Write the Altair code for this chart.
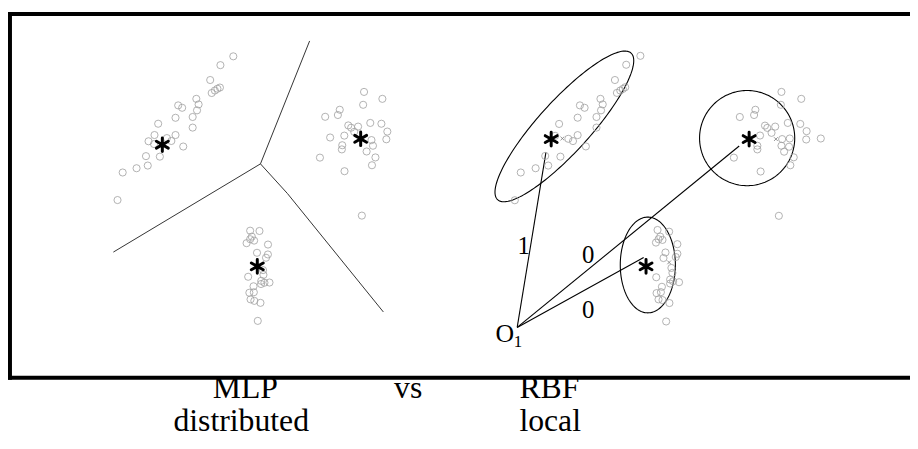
import altair as alt
import pandas as pd
import numpy as np

# ---------------- data (page pixel coordinates) ----------------
# MLP panel: three clusters of samples
mlp_left_x = [235.3, 222.3, 212.0, 213.5, 216.7, 219.3, 221.8, 198.0, 200.3, 198.7, 179.7, 183.7, 177.0, 194.3,
              194.3, 159.5, 155.8, 149.8, 177.0, 172.8, 168.3, 155.3, 184.8, 161.2, 147.2, 149.0, 137.7, 123.7, 118.5]
mlp_left_y = [54.8, 63.7, 78.7, 91.8, 89.3, 87.5, 86.3, 97.7, 103.3, 109.3, 104.3, 106.7, 116.8, 116.0,
              126.7, 122.8, 134.2, 140.5, 134.2, 140.2, 137.3, 143.3, 145.8, 156.0, 155.5, 165.0, 167.7, 172.0, 199.8]

mlp_right_x = [367.2, 385.7, 366.3, 342.7, 340.8, 328.0, 351.3, 354.2, 361.2, 373.5, 384.7, 390.7, 389.7, 333.0,
               347.3, 357.3, 374.7, 376.2, 345.2, 344.8, 369.8, 378.7, 375.2, 322.7, 347.5, 365.0]
mlp_right_y = [90.7, 97.7, 103.7, 108.7, 114.0, 115.8, 124.5, 126.8, 125.7, 122.0, 122.8, 130.7, 138.5, 136.7,
               134.8, 131.0, 139.3, 145.0, 144.5, 148.7, 150.8, 156.8, 164.7, 157.0, 170.7, 215.5]

mlp_bottom_x = [252.3, 261.7, 254.0, 252.3, 256.3, 248.7, 270.3, 259.2, 270.2, 268.3, 265.3, 265.7, 250.3, 263.5,
                266.7, 271.8, 263.3, 255.7, 251.5, 256.0, 252.7, 256.5, 262.7, 260.0]
mlp_bottom_y = [230.7, 231.0, 236.7, 239.3, 240.7, 243.3, 244.7, 253.0, 254.7, 258.0, 270.5, 275.3, 277.2, 281.3,
                283.2, 283.0, 284.5, 286.8, 293.3, 292.8, 300.0, 301.5, 303.5, 321.7]

mlp_centre_x = [163.7, 363.8, 259.5]
mlp_centre_y = [144.0, 138.0, 266.7]

# MLP decision boundaries (three segments meeting at a junction)
mlp_bound_id = ["a", "a", "b", "b", "c", "c", "c"]
mlp_bound_x = [262.7, 312.3, 262.7, 114.3, 262.7, 290.0, 386.7]
mlp_bound_y = [163.3, 39.3, 163.3, 252.3, 163.3, 193.3, 312.7]

# RBF panel: the same three clusters
rbf_left_x = [646.0, 631.7, 620.3, 622.3, 625.7, 628.3, 630.7, 605.7, 608.0, 606.3, 585.0, 589.7, 582.7, 601.7,
              601.7, 564.0, 560.0, 582.7, 578.0, 573.3, 591.0, 565.3, 550.0, 553.0, 540.3, 525.3, 519.3]
rbf_left_y = [54.3, 63.3, 78.7, 91.7, 89.3, 87.7, 86.0, 97.7, 103.3, 109.3, 104.3, 106.7, 116.7, 116.0,
              126.7, 123.0, 135.0, 134.3, 140.3, 138.0, 145.7, 156.0, 155.3, 165.0, 167.7, 172.0, 200.0]

rbf_right_x = [788.3, 808.3, 787.7, 762.0, 760.7, 746.3, 771.7, 774.0, 782.0, 794.7, 807.3, 813.7, 813.3, 828.0,
               766.7, 778.3, 789.0, 796.7, 788.3, 796.0, 764.0, 764.0, 791.0, 800.7, 797.3, 740.3, 767.3, 785.7]
rbf_right_y = [90.7, 97.7, 103.7, 108.7, 114.0, 116.0, 124.7, 127.0, 125.7, 122.0, 123.0, 130.3, 138.7, 137.7,
               134.7, 132.0, 138.3, 137.7, 145.0, 146.0, 145.0, 148.7, 151.0, 156.7, 164.7, 157.0, 171.0, 215.7]

rbf_bottom_x = [663.3, 675.0, 666.0, 664.3, 668.3, 661.7, 683.3, 671.3, 683.3, 681.7, 669.3, 677.3, 678.3, 662.0,
                676.0, 679.0, 685.0, 676.0, 667.7, 662.3, 666.7, 664.3, 668.3, 675.3, 672.0]
rbf_bottom_y = [230.0, 231.7, 236.7, 239.3, 240.0, 242.7, 244.3, 252.7, 254.0, 257.3, 258.3, 268.3, 273.3, 277.7,
                280.0, 281.7, 282.7, 284.0, 287.3, 293.7, 292.7, 300.0, 300.7, 303.7, 322.3]

rbf_centre_x = [556.0, 755.7, 651.7]
rbf_centre_y = [138.3, 138.3, 266.7]
rbf_mean_x = [567.3, 782.7, 675.0]
rbf_mean_y = [137.7, 138.3, 262.7]

# receptive fields: centre, semi-axes, tilt (degrees)
field_cx = [569.3, 753.7, 653.5]
field_cy = [125.5, 137.3, 265.3]
field_a = [100.0, 48.0, 27.8]
field_b = [26.0, 48.0, 48.3]
field_tilt = [47.7, 0.0, 0.0]

# output unit O1 and its connections to the centres
out_x, out_y = 521.7, 328.3
conn_end_x = [550.7, 745.7, 649.3]
conn_end_y = [151.7, 145.3, 257.7]
weight_text = ["1", "0", "0"]
weight_x = [528.3, 593.3, 593.3]
weight_y = [254.0, 263.3, 318.3]

caption_text = ["MLP", "vs", "RBF", "distributed", "local"]
caption_x = [247.5, 411.7, 554.2, 243.3, 555.0]
caption_y = [400.0, 400.0, 400.0, 433.3, 433.3]

# ---------------- build the chart ----------------
XS = alt.Scale(domain=[8, 918])
YS = alt.Scale(domain=[8, 449], reverse=True)


def X(f="x"):
    return alt.X(f"{f}:Q", scale=XS, axis=None)


def Y(f="y"):
    return alt.Y(f"{f}:Q", scale=YS, axis=None)


FONT = "Liberation Serif"

samples = pd.DataFrame({
    "x": mlp_left_x + mlp_right_x + mlp_bottom_x + rbf_left_x + rbf_right_x + rbf_bottom_x,
    "y": mlp_left_y + mlp_right_y + mlp_bottom_y + rbf_left_y + rbf_right_y + rbf_bottom_y,
})
centres = pd.DataFrame({"x": mlp_centre_x + rbf_centre_x, "y": mlp_centre_y + rbf_centre_y})
means = pd.DataFrame({"x": rbf_mean_x, "y": rbf_mean_y})
bounds = pd.DataFrame({"g": mlp_bound_id, "x": mlp_bound_x, "y": mlp_bound_y,
                       "o": list(range(len(mlp_bound_x)))})

rows = []
t = np.linspace(0, 2 * np.pi, 181)
for i in range(len(field_cx)):
    th = np.deg2rad(field_tilt[i])
    ex = field_cx[i] + field_a[i] * np.cos(t) * np.cos(th) - field_b[i] * np.sin(t) * np.sin(th)
    ey = field_cy[i] - (field_a[i] * np.cos(t) * np.sin(th) + field_b[i] * np.sin(t) * np.cos(th))
    for k in range(len(t)):
        rows.append({"g": i, "o": k, "x": float(ex[k]), "y": float(ey[k])})
fields = pd.DataFrame(rows)

conns = pd.DataFrame({"x": [out_x] * 3, "y": [out_y] * 3, "x2": conn_end_x, "y2": conn_end_y})
weights = pd.DataFrame({"t": weight_text, "x": weight_x, "y": weight_y})
out_lab = pd.DataFrame({"t": ["O"], "x": [out_x - 12.4], "y": [343.3]})
out_sub = pd.DataFrame({"t": ["1"], "x": [out_x + 0.8], "y": [348.3]})
captions = pd.DataFrame({"t": caption_text, "x": caption_x, "y": caption_y})

frame = pd.DataFrame({"x": [8, 10, 8], "x2": [918, 10, 918], "y": [12, 10, 379], "y2": [12, 381, 379]})

ASTER = "M0,-1L0,1M-0.87,-0.5L0.87,0.5M-0.87,0.5L0.87,-0.5"
XMARK = "M-1,-1L1,1M-1,1L1,-1"

layers = [
    alt.Chart(frame).mark_rule(color="black", strokeWidth=4, strokeCap="butt").encode(
        x=X(), x2="x2:Q", y=Y(), y2="y2:Q"),
    alt.Chart(bounds).mark_line(color="#333333", strokeWidth=1).encode(
        x=X(), y=Y(), detail="g:N", order="o:Q"),
    alt.Chart(fields).mark_line(color="black", strokeWidth=1.1).encode(
        x=X(), y=Y(), detail="g:N", order="o:Q"),
    alt.Chart(conns).mark_rule(color="black", strokeWidth=1.1).encode(
        x=X(), y=Y(), x2="x2:Q", y2="y2:Q"),
    alt.Chart(samples).mark_point(shape="circle", filled=False, size=52, color="#9e9e9e",
                                  strokeWidth=0.8, opacity=1).encode(x=X(), y=Y()),
    alt.Chart(means).mark_point(shape=XMARK, filled=False, size=14, color="#777777",
                                strokeWidth=0.8, opacity=1).encode(x=X(), y=Y()),
    alt.Chart(centres).mark_point(shape=ASTER, filled=False, size=190, color="black",
                                  strokeWidth=3, strokeCap="round", opacity=1).encode(x=X(), y=Y()),
    alt.Chart(weights).mark_text(font=FONT, fontSize=25, color="black", align="center",
                                 baseline="alphabetic").encode(x=X(), y=Y(), text="t:N"),
    alt.Chart(out_lab).mark_text(font=FONT, fontSize=26, color="black", align="center",
                                 baseline="alphabetic").encode(x=X(), y=Y(), text="t:N"),
    alt.Chart(out_sub).mark_text(font=FONT, fontSize=17, color="black", align="center",
                                 baseline="alphabetic").encode(x=X(), y=Y(), text="t:N"),
    alt.Chart(captions).mark_text(font=FONT, fontSize=32, color="black", align="center",
                                  baseline="alphabetic").encode(x=X(), y=Y(), text="t:N"),
]

chart = alt.layer(*layers).properties(
    width=910, height=441, padding=0, autosize="none", background="white"
).configure_view(strokeWidth=0)

chart.save("out.html", embed_options={"renderer": "svg", "actions": False})
